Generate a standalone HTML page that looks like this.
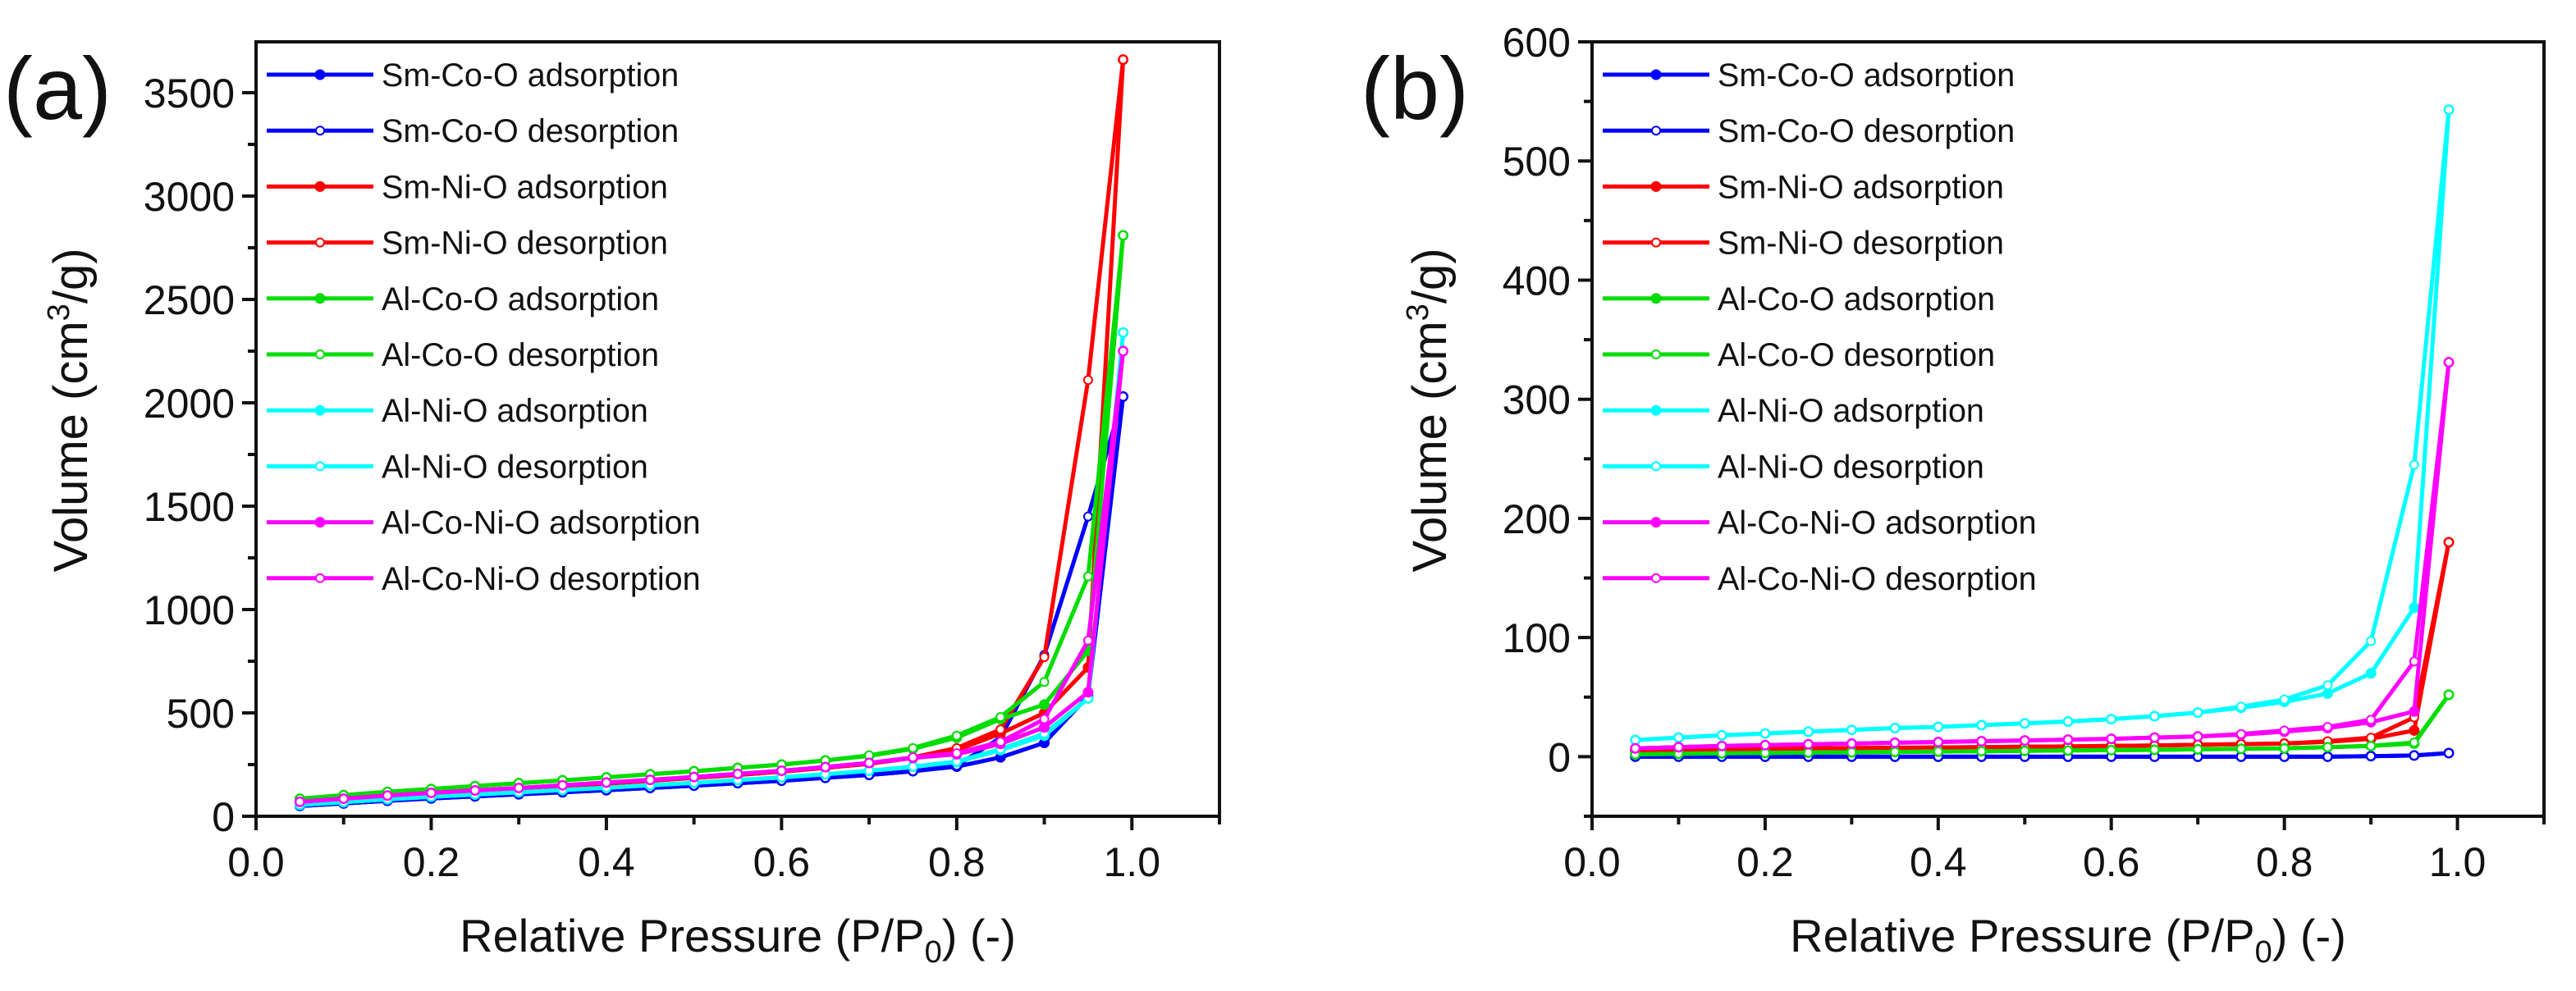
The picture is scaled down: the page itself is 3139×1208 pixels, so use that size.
<!DOCTYPE html>
<html><head><meta charset="utf-8"><style>
html,body{margin:0;padding:0;background:#fff;}
svg{display:block;font-family:"Liberation Sans",Arial,sans-serif;}
</style></head><body>
<svg id="fig" width="3139" height="1208" viewBox="0 0 3139 1208" xmlns="http://www.w3.org/2000/svg"></svg>
<script>
const xs = [0.05,0.10,0.15,0.20,0.25,0.30,0.35,0.40,0.45,0.50,0.55,0.60,0.65,0.70,0.75,0.80,0.85,0.90,0.95,0.99];
const seriesNames = ["Sm-Co-O","Sm-Ni-O","Al-Co-O","Al-Ni-O","Al-Co-Ni-O"];
const seriesColors = ["#0000ff","#ff0000","#00dd00","#00ffff","#ff00ff"];
// panel (a) adsorption / desorption
const aAds = [
 [50,62,75,86,96,106,116,126,137,148,160,172,186,200,218,240,285,355,580,2030],
 [65,80,95,108,120,132,145,158,172,186,200,216,234,254,282,320,400,500,720,3660],
 [85,102,118,132,146,160,174,188,203,218,234,250,270,292,326,380,470,540,800,2810],
 [55,68,82,94,105,116,127,138,150,162,175,188,203,220,240,262,320,390,570,2340],
 [70,85,100,113,125,137,150,163,176,190,205,220,238,258,282,300,350,430,600,2250]];
const aDes = [
 [50,62,75,86,96,106,116,126,137,148,160,172,186,200,218,245,380,780,1450,2030],
 [65,80,95,108,120,132,145,158,172,186,200,216,234,254,285,330,420,770,2110,3660],
 [85,102,118,132,146,160,174,188,203,218,234,250,270,295,330,390,480,650,1160,2810],
 [55,68,82,94,105,116,127,138,150,162,175,188,203,220,240,265,325,400,570,2340],
 [70,85,100,113,125,137,150,163,176,190,205,220,238,258,285,305,360,470,850,2250]];
// panel (b)
const bAds = [
 [0,0,0,0,0,0,0,0,0,0,0,0,0,0,0,0,0,0.5,1,3],
 [5,5.5,6,6.5,7,7.2,7.5,7.8,8,8.3,8.6,9,9.4,10,10.5,11,12.5,15,22,180],
 [2,2.4,2.8,3.1,3.4,3.7,4,4.3,4.6,4.9,5.2,5.5,5.8,6.2,6.6,7,8,9,11,52],
 [14,16,18,19.5,21,22.5,24,25,26.5,28,29.5,31.5,34,37,41,46,53,70,125,543],
 [7,8,9,9.7,10.4,11,11.7,12.3,13,13.6,14.3,15,16,17,18.5,21,24,29,38,331]];
const bDes = [
 [0,0,0,0,0,0,0,0,0,0,0,0,0,0,0,0,0,0.5,1,3],
 [5,5.5,6,6.5,7,7.2,7.5,7.8,8,8.3,8.6,9,9.4,10,10.5,11,13,16,33,180],
 [2,2.4,2.8,3.1,3.4,3.7,4,4.3,4.6,4.9,5.2,5.5,5.8,6.2,6.6,7,8,9,12,52],
 [14,16,18,19.5,21,22.5,24,25,26.5,28,29.5,31.5,34,37,42,48,60,97,245,543],
 [7,8,9,9.7,10.4,11,11.7,12.3,13,13.6,14.3,15,16,17,19,22,25,31,80,331]];
const xTicks = [0.0,0.2,0.4,0.6,0.8,1.0];
const aYTicks = [0,500,1000,1500,2000,2500,3000,3500];
const bYTicks = [0,100,200,300,400,500,600];

const NS="http://www.w3.org/2000/svg";
const svg=document.getElementById('fig');
function mk(tag,attrs,parent){const e=document.createElementNS(NS,tag);for(const k in attrs)e.setAttribute(k,attrs[k]);(parent||svg).appendChild(e);return e;}

function panel(cfg){
  const g=mk('g',{});
  
  
  const L=cfg.left,R=cfg.right,T=51,B=995;
  const X=v=>L+(v-0)/(1.1)*(R-L);
  const Y=v=>B-(v-cfg.ymin)/(cfg.ymax-cfg.ymin)*(B-T);
  for(let s=0;s<5;s++){
    for(const kind of ['ads','des']){
      const vals=kind==='ads'?cfg.ads[s]:cfg.des[s];
      const pts=xs.map((x,i)=>X(x).toFixed(1)+','+Y(vals[i]).toFixed(1)).join(' ');
      const pl=mk('polyline',{points:pts,fill:'none',stroke:seriesColors[s],'stroke-width':5,'stroke-linejoin':'round'},g);
      
      
      xs.forEach((x,i)=>{
        const c=mk('circle',{cx:X(x),cy:Y(vals[i]),r:kind==='ads'?5.5:5,fill:kind==='ads'?seriesColors[s]:'#fff',stroke:seriesColors[s],'stroke-width':2},g);
        
        
      });
    }
  }
  const fr=mk('rect',{x:L,y:T,width:R-L,height:B-T,fill:'none',stroke:'#111','stroke-width':4},g);
  
  
  for(let v=0;v<=1.1001;v+=0.1){
    const major=Math.abs(Math.round(v*10)%2)===0;
    mk('line',{x1:X(v),x2:X(v),y1:B,y2:B+(major?17:10),stroke:'#111','stroke-width':4},g);
  }
  xTicks.forEach(v=>{
    const t=mk('text',{x:X(v),y:1068,'font-size':50,'text-anchor':'middle',fill:'#111'},g);
    t.textContent=v.toFixed(1);
    
    
  });
  const step=cfg.ystep;
  for(let v=cfg.ymin;v<=cfg.ymax+1e-6;v+=step/2){
    const major=Math.abs((v/step)-Math.round(v/step))<1e-6;
    mk('line',{x1:L,x2:L-(major?17:10),y1:Y(v),y2:Y(v),stroke:'#111','stroke-width':4},g);
  }
  cfg.yTicks.forEach(v=>{
    const t=mk('text',{x:L-26,y:Y(v)+18,'font-size':50,'text-anchor':'end',fill:'#111'},g);
    t.textContent=String(v);
    
    
  });
  const xt=mk('text',{x:(L+R)/2,y:1160,'font-size':56,'text-anchor':'middle',fill:'#111'},g);
  xt.innerHTML='Relative Pressure (P/P<tspan font-size="38" dy="13">0</tspan><tspan dy="-13">) (-)</tspan>';
  
  
  const yt=mk('text',{x:0,y:0,'font-size':58,'text-anchor':'middle',fill:'#111',transform:`translate(${cfg.ytx},500) rotate(-90)`},g);
  yt.innerHTML='Volume (cm<tspan font-size="38" dy="-22">3</tspan><tspan dy="22">/g)</tspan>';
  
  
  const pl=mk('text',{x:cfg.lblx,y:145,'font-size':108,fill:'#111'},g);
  pl.textContent=cfg.label;
  
  
  let k=0;
  for(let s=0;s<5;s++){for(const kind of ['adsorption','desorption']){
    const y=91+k*68.2;
    const lg=mk('g',{},g);
    
    
    mk('line',{x1:L+13,x2:L+143,y1:y,y2:y,stroke:seriesColors[s],'stroke-width':5},lg);
    mk('circle',{cx:L+78,cy:y,r:kind==='adsorption'?5.5:5,fill:kind==='adsorption'?seriesColors[s]:'#fff',stroke:seriesColors[s],'stroke-width':2},lg);
    const t=mk('text',{x:L+153,y:y+14,'font-size':39.5,fill:'#111'},lg);
    t.textContent=seriesNames[s]+' '+kind;
    k++;
  }}
}
panel({name:'panel-a',left:312,right:1486,ymin:0,ymax:3746,ystep:500,yTicks:aYTicks,ads:aAds,des:aDes,ytx:106,lblx:4,label:'(a)'});
panel({name:'panel-b',left:1940,right:3100,ymin:-50,ymax:600,ystep:100,yTicks:bYTicks,ads:bAds,des:bDes,ytx:1762,lblx:1658,label:'(b)'});
</script>
</body></html>
